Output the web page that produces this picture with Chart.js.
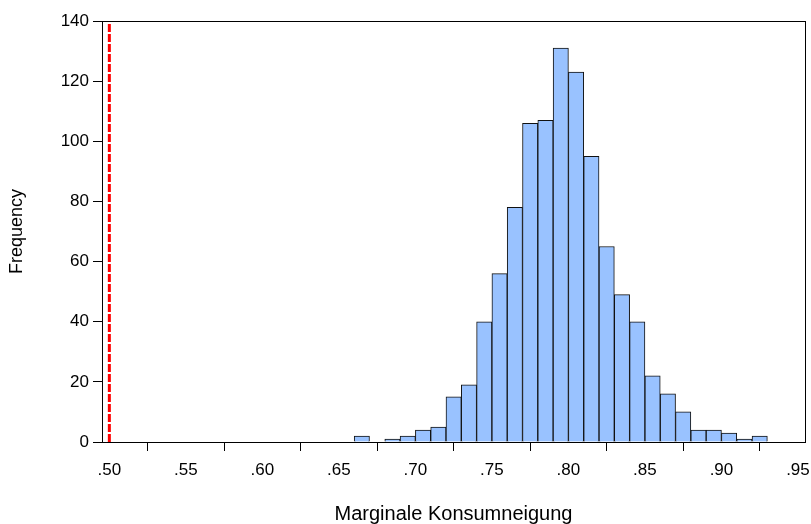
<!DOCTYPE html>
<html>
<head>
<meta charset="utf-8">
<script src="https://cdn.jsdelivr.net/npm/chart.js@4"></script>
<style>
    html, body { margin: 0; padding: 0; background: #fff; }
    #wrap { width: 811px; height: 524px; }
</style>
</head>
<body>
<div id="wrap"><canvas id="histChart" width="811" height="524"></canvas></div>
<script>
// Klassen (untere Grenze, Breite .01) und Häufigkeiten
const binStarts = [0.66, 0.67, 0.68, 0.69, 0.70, 0.71, 0.72, 0.73, 0.74, 0.75, 0.76, 0.77, 0.78, 0.79,
                   0.80, 0.81, 0.82, 0.83, 0.84, 0.85, 0.86, 0.87, 0.88, 0.89, 0.90, 0.91, 0.92];
const counts = [2, 0, 1, 2, 4, 5, 15, 19, 40, 56, 78, 106, 107, 131,
                123, 95, 65, 49, 40, 22, 16, 10, 4, 4, 3, 1, 2];
const binWidth = 0.01;

// Referenzlinie bei .50
const refLineX = [0.5, 0.5];
const refLineY = [0, 140];

// Achsenbeschriftungen
const xTicks = [0.50, 0.55, 0.60, 0.65, 0.70, 0.75, 0.80, 0.85, 0.90, 0.95];
const yTicks = [0, 20, 40, 60, 80, 100, 120, 140];

const font = "'Liberation Sans', Arial, Helvetica, sans-serif";

// Rahmen um den Plotbereich
const frame = {
    id: 'frame',
    afterDatasetsDraw(chart) {
        const a = chart.chartArea;
        const ctx = chart.ctx;
        ctx.save();
        ctx.strokeStyle = '#000';
        ctx.lineWidth = 1;
        ctx.strokeRect(Math.round(a.left) + 0.5, Math.round(a.top) + 0.5,
            Math.round(a.right - a.left), Math.round(a.bottom - a.top));
        ctx.restore();
    }
};

const ctx = document.getElementById("histChart").getContext("2d");
new Chart(ctx, {
    type: 'bar',
    data: {
        datasets: [{
            type: 'line',
            data: refLineX.map((x, i) => ({ x: x, y: refLineY[i] })),
            borderColor: '#ff0000',
            borderWidth: 3,
            borderDash: [8, 2],
            pointRadius: 0,
            order: 0
        }, {
            type: 'bar',
            data: binStarts.map((b, i) => ({ x: b + binWidth / 2, y: counts[i] })),
            backgroundColor: '#99c2ff',
            borderColor: '#111',
            borderWidth: 1,
            barPercentage: 1,
            categoryPercentage: 1,
            order: 1
        }]
    },
    options: {
        responsive: false,
        animation: false,
        layout: { padding: { top: 21, right: 6, left: 0, bottom: 0 } },
        plugins: {
            legend: { display: false },
            tooltip: { enabled: false }
        },
        scales: {
            x: {
                type: 'linear',
                min: 0.4952,
                max: 0.9546,
                offset: false,
                afterFit: scale => {
                    scale.height = 82;
                    scale.paddingLeft = 0;
                    scale.paddingRight = 0;
                },
                afterBuildTicks: scale => { scale.ticks = xTicks.map(v => ({ value: v })); },
                grid: { drawOnChartArea: false, tickLength: 9, color: '#000' },
                border: { color: '#000', width: 1 },
                ticks: {
                    padding: 9,
                    color: '#000',
                    font: { family: font, size: 17 },
                    maxRotation: 0,
                    autoSkip: false,
                    callback: v => v.toFixed(2).replace(/^0/, '')
                },
                title: {
                    display: true,
                    text: 'Marginale Konsumneigung',
                    color: '#000',
                    font: { family: font, size: 20, lineHeight: 1.0 },
                    padding: { top: 0, bottom: 0 }
                }
            },
            y: {
                min: 0,
                max: 140,
                afterFit: scale => {
                    scale.width = 102;
                    scale.paddingTop = 0;
                    scale.paddingBottom = 0;
                },
                afterBuildTicks: scale => { scale.ticks = yTicks.map(v => ({ value: v })); },
                grid: { drawOnChartArea: false, tickLength: 9, color: '#000' },
                border: { color: '#000', width: 1 },
                ticks: {
                    padding: 4,
                    color: '#000',
                    font: { family: font, size: 17 }
                },
                title: {
                    display: true,
                    text: 'Frequency',
                    color: '#000',
                    font: { family: font, size: 18 },
                    padding: { top: 6, bottom: 0 }
                }
            }
        }
    },
    plugins: [frame]
});
</script>
</body>
</html>
